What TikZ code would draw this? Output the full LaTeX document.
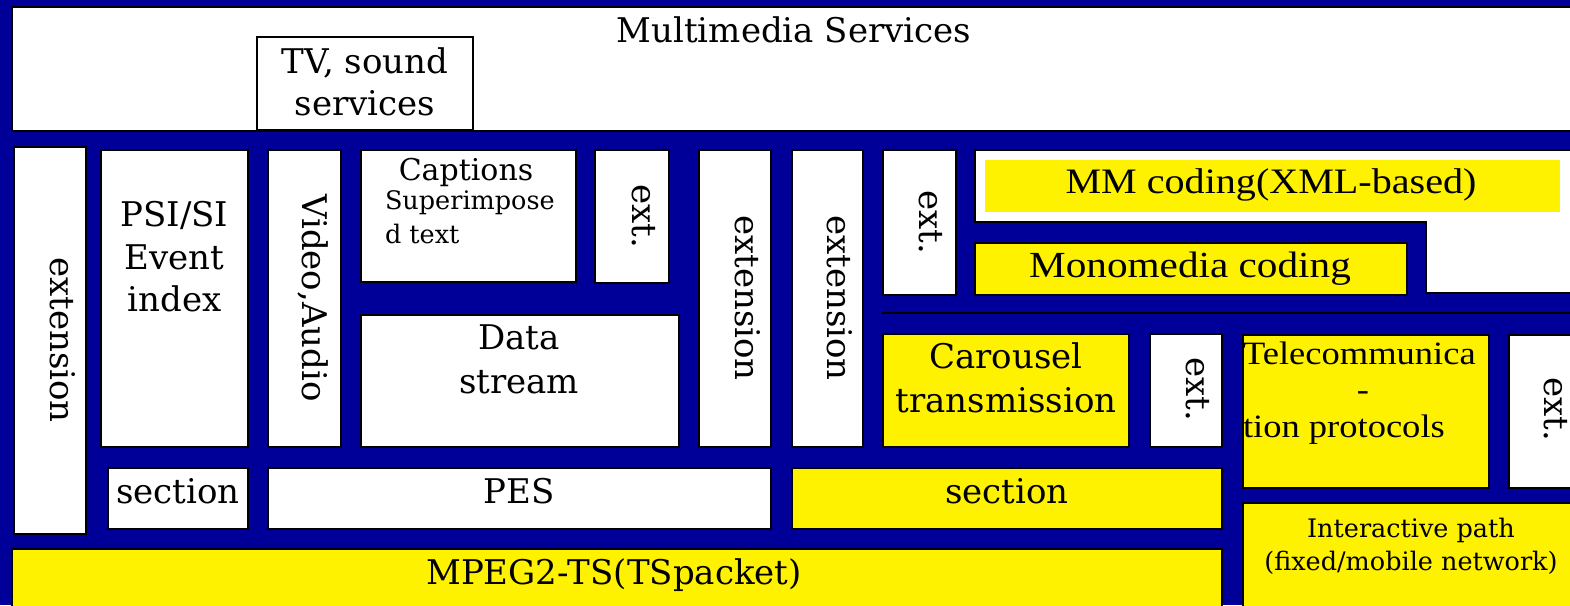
\documentclass[tikz,border=0pt]{standalone}
\usepackage{fontspec}
\setmainfont{DejaVu Serif}
\newfontfamily\timesx[FakeStretch=1.12]{Liberation Serif}
\definecolor{bgblue}{RGB}{0,0,153}
\newcommand\fmain{\fontsize{34pt}{40pt}\selectfont}
\newcommand\fcapt{\fontsize{30pt}{36pt}\selectfont}
\newcommand\fsmall{\fontsize{25.5pt}{30pt}\selectfont}
\newcommand\ftimes[1]{\timesx\fontsize{#1}{#1}\selectfont}
\newcommand\blkbox[6]{\node[#1, minimum width={(#5-#3)*1pt}, minimum height={(#6-#4)*1pt}] (#2) at (#3,#4) {};}
\tikzset{
  blk/.style={draw=black, line width=1.8pt, inner sep=0pt, outer sep=0pt, anchor=north west},
  wbox/.style={blk, fill=white},
  ybox/.style={blk, fill=yellow},
  lbl/.style={inner sep=0pt, outer sep=0pt, anchor=base, font=\fmain},
  lblw/.style={lbl, anchor=base west},
  vlbl/.style={lbl, rotate=-90},
}
\begin{document}
\begin{tikzpicture}[x=1pt, y=-1pt]
\useasboundingbox (0,0) rectangle (1570,605);
\fill[bgblue] (0,0) rectangle (1570,605);
% top
\blkbox{wbox}{top}{12}{7}{1590}{131}
\blkbox{wbox}{tv}{257}{37}{473}{130}
% left column
\blkbox{wbox}{extl}{14}{147}{86}{534}
\blkbox{wbox}{psi}{101}{150}{248}{447}
\blkbox{wbox}{video}{268}{150}{341}{447}
\blkbox{wbox}{capt}{361}{150}{576}{282}
\blkbox{wbox}{exta}{595}{150}{669}{283}
\blkbox{wbox}{data}{361}{315}{679}{447}
\blkbox{wbox}{extb}{699}{150}{771}{447}
\blkbox{wbox}{extc}{792}{150}{863}{447}
\blkbox{wbox}{extd}{883}{150}{956}{295}
% MM coding area
\draw[line width=1.8pt, fill=white] (975,150) -- (1590,150) -- (1590,293) -- (1426,293) -- (1426,222) -- (975,222) -- cycle;
\node[fill=yellow, inner sep=0pt, outer sep=0pt, anchor=north west, minimum width=575pt, minimum height=52pt] (mm) at (985,160) {};
\blkbox{ybox}{mono}{975}{243}{1407}{295}
\coordinate (hl1) at (882,313);
\coordinate (hl2) at (1590,313);
\draw[line width=1.8pt] (hl1) -- (hl2);
\blkbox{ybox}{car}{883}{334}{1129}{447}
\blkbox{wbox}{exte}{1150}{334}{1222}{447}
\blkbox{ybox}{tel}{1243}{335}{1489}{488}
\blkbox{wbox}{extf}{1509}{335}{1590}{488}
% lower rows
\blkbox{wbox}{secl}{108}{468}{248}{529}
\blkbox{wbox}{pes}{268}{468}{771}{529}
\blkbox{ybox}{secy}{792}{468}{1222}{529}
\blkbox{ybox}{mpeg}{12}{549}{1222}{620}
\blkbox{ybox}{inter}{1243}{503}{1590}{620}
% labels
\node[lbl] (tMS) at (794,42) {Multimedia Services};
\node[lbl] (tTV1) at (365,73) {TV, sound};
\node[lbl] (tTV2) at (365,115) {services};
\node[vlbl] (tEL) at (50,340) {extension};
\node[lbl] (tP1) at (174.5,226) {PSI/SI};
\node[lbl] (tP2) at (174.5,269) {Event};
\node[lbl] (tP3) at (174.5,311) {index};
\node[vlbl] (tVA) at (302,298) {Video,Audio};
\node[lbl, font=\fcapt] (tC1) at (466,180) {Captions};
\node[lblw, font=\fsmall] (tC2) at (385,209) {Superimpose};
\node[lblw, font=\fsmall] (tC3) at (385,243) {d text};
\node[vlbl] (tEA) at (632,216) {ext.};
\node[lbl] (tD1) at (519,349) {Data};
\node[lbl] (tD2) at (519,393) {stream};
\node[vlbl] (tEB) at (735,298) {extension};
\node[vlbl] (tEC) at (827,298) {extension};
\node[vlbl] (tED) at (919,222) {ext.};
\node[lbl, font=\ftimes{35.8pt}] (tMM) at (1271,193) {MM coding(XML-based)};
\node[lbl, font=\ftimes{36.8pt}] (tMono) at (1190,277) {Monomedia coding};
\node[lbl] (tCa1) at (1006,368) {Carousel};
\node[lbl] (tCa2) at (1006,412) {transmission};
\node[vlbl] (tEE) at (1186,389) {ext.};
\node[lblw, font=\ftimes{32.6pt}] (tT1) at (1243,364) {Telecommunica};
\node[lbl, font=\ftimes{32.6pt}] (tT2) at (1363,400) {-};
\node[lblw, font=\ftimes{32.6pt}] (tT3) at (1243,437) {tion protocols};
\node[vlbl] (tEF) at (1544,409) {ext.};
\node[lbl] (tS1) at (178,503) {section};
\node[lbl] (tPES) at (519,503) {PES};
\node[lbl] (tS2) at (1007,503) {section};
\node[lbl] (tMP) at (614,584) {MPEG2-TS(TSpacket)};
\node[lbl, font=\fsmall] (tI1) at (1411,537) {Interactive path};
\node[lbl, font=\fsmall] (tI2) at (1411,570) {(fixed/mobile network)};
\end{tikzpicture}
\end{document}
